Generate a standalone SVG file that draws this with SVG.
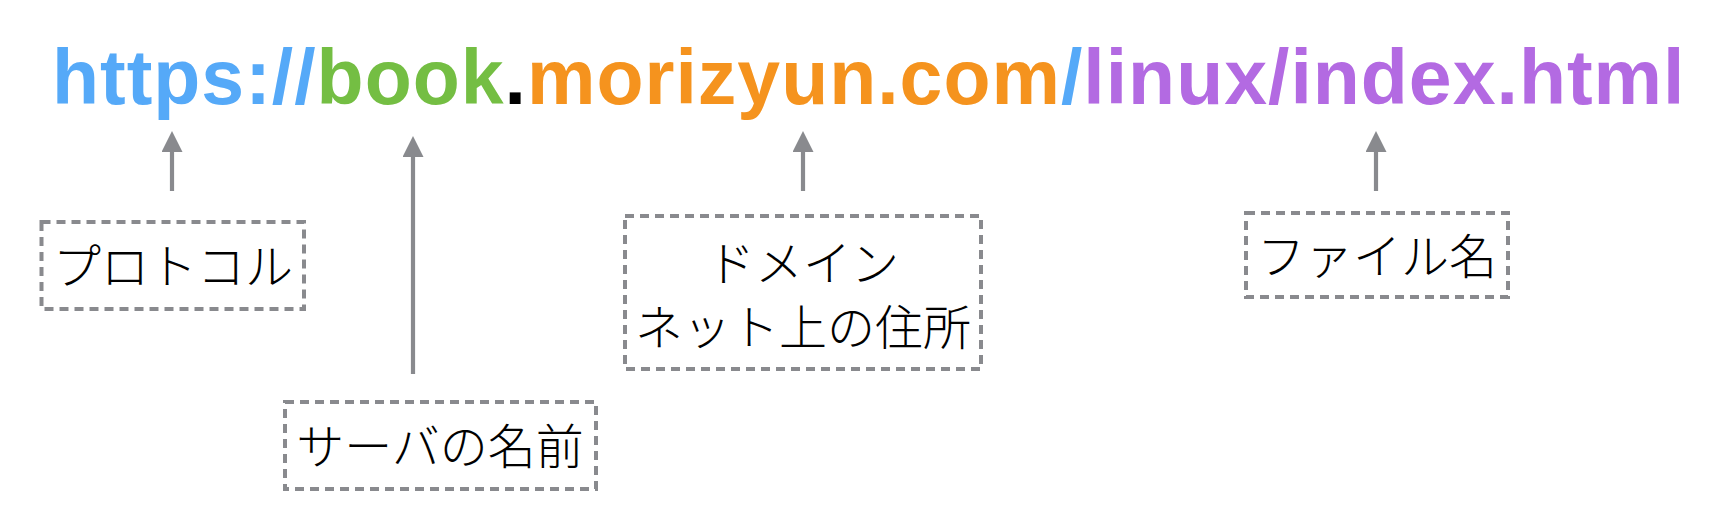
<svg xmlns="http://www.w3.org/2000/svg" width="1714" height="510" viewBox="0 0 1714 510">
<defs>
<marker id="ah" markerWidth="5" markerHeight="5" refX="0" refY="2.5" orient="auto" markerUnits="strokeWidth">
<path d="M0,0 L5,2.5 L0,5 Z" fill="#898A8E"/>
</marker>
<style>
.url{font-family:"Liberation Sans",Arial,sans-serif;font-weight:bold;font-size:77px;letter-spacing:1px}
.blue{fill:#55A9F8}.green{fill:#74BE43}.blk{fill:#000}.orange{fill:#F5931E}.purple{fill:#B36AE2}
.conn line{stroke:#898A8E;stroke-width:4.2;marker-end:url(#ah)}
.box{fill:none;stroke:#898A8E;stroke-width:4;stroke-dasharray:9 6}
.lbl{font-family:"Noto Sans CJK JP","Noto Sans",sans-serif;font-weight:300;font-size:48px;fill:#000;text-anchor:middle}
</style>
</defs>
<rect width="1714" height="510" fill="#fff"/>
<g id="url">
<text class="url" x="52" y="104"><tspan class="blue">https://</tspan><tspan class="green">book</tspan><tspan class="blk">.</tspan><tspan class="orange">morizyun.com</tspan><tspan class="blue">/</tspan><tspan class="purple">linux/index.html</tspan></text>
</g>
<g id="connectors" class="conn">
<line x1="172" y1="191" x2="172" y2="152"/>
<line x1="413" y1="374" x2="413" y2="157"/>
<line x1="803" y1="191" x2="803" y2="152"/>
<line x1="1376" y1="191" x2="1376" y2="152"/>
</g>
<g id="protocol">
<rect class="box" x="41.5" y="222" width="262.5" height="87"/>
<text class="lbl" x="173" y="284">プロトコル</text>
</g>
<g id="server">
<rect class="box" x="285" y="402" width="311" height="87"/>
<text class="lbl" x="440" y="464">サーバの名前</text>
</g>
<g id="domain">
<rect class="box" x="625" y="216" width="356" height="153"/>
<text class="lbl" x="803" y="281">ドメイン</text>
<text class="lbl" x="803" y="345">ネット上の住所</text>
</g>
<g id="filename">
<rect class="box" x="1246" y="213" width="262" height="84"/>
<text class="lbl" x="1377" y="274">ファイル名</text>
</g>
</svg>
